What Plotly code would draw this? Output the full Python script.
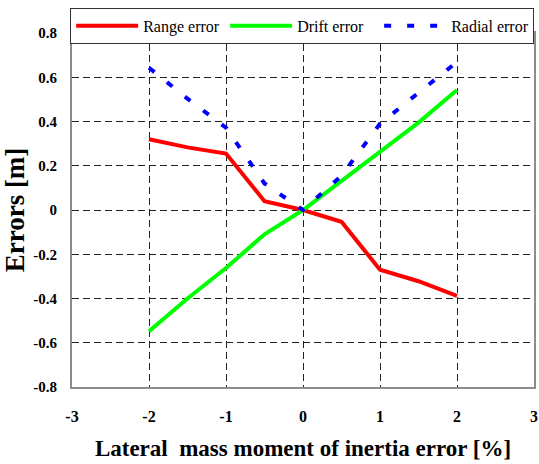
import plotly.graph_objects as go

# Lateral mass moment of inertia error [%]
inertia_error = [-2, -1.5, -1, -0.5, 0, 0.5, 1, 1.5, 2]

# Impact point errors [m]
range_error = [0.32, 0.283, 0.255, 0.04, 0.0, -0.053, -0.27, -0.322, -0.388]
drift_error = [-0.548, -0.40, -0.262, -0.11, 0.0, 0.13, 0.262, 0.395, 0.542]
radial_error = [0.643, 0.503, 0.372, 0.12, 0.0, 0.155, 0.39, 0.53, 0.669]

x_ticks = [-3, -2, -1, 0, 1, 2, 3]
x_tick_text = ["-3", "-2", "-1", "0", "1", "2", "3"]
y_ticks = [-0.8, -0.6, -0.4, -0.2, 0, 0.2, 0.4, 0.6, 0.8]
y_tick_text = ["-0.8", "-0.6", "-0.4", "-0.2", "0", "0.2", "0.4", "0.6", "0.8"]

SERIF = "Liberation Serif"

fig = go.Figure()
fig.add_trace(go.Scatter(x=inertia_error, y=range_error, mode="lines", name="Range error",
                         line=dict(color="#ff0000", width=4)))
fig.add_trace(go.Scatter(x=inertia_error, y=drift_error, mode="lines", name="Drift error",
                         line=dict(color="#00ff00", width=4)))
fig.add_trace(go.Scatter(x=inertia_error, y=radial_error, mode="lines", name="Radial error",
                         line=dict(color="#0000ff", width=4, dash="7px,16px")))

fig.update_layout(
    width=539, height=464,
    margin=dict(l=72, r=5, t=33, b=77, autoexpand=False),
    paper_bgcolor="white", plot_bgcolor="white",
    font=dict(family=SERIF, color="black"),
    legend=dict(
        orientation="h", x=-0.004, xanchor="left", y=1.071, yanchor="top",
        bgcolor="white", bordercolor="#333333", borderwidth=1,
        font=dict(family=SERIF, size=16, color="black"),
        entrywidth=77, entrywidthmode="pixels",
        itemwidth=62, tracegroupgap=0,
    ),
    xaxis=dict(
        range=[-3, 3], tickvals=x_ticks, ticktext=x_tick_text,
        showgrid=True, gridcolor="#222222", gridwidth=1, griddash="7px,4px",
        zeroline=False, showline=True, linecolor="#8c8c8c", linewidth=2, mirror=True,
        ticks="", ticklabelstandoff=14,
        tickfont=dict(family=SERIF, size=16, color="black", weight="bold"),
        title=dict(text="<b>Lateral  mass moment of inertia error [%]</b>",
                   font=dict(family=SERIF, size=23, color="black"), standoff=16),
    ),
    yaxis=dict(
        range=[-0.8, 0.8], tickvals=y_ticks, ticktext=y_tick_text,
        showgrid=True, gridcolor="#222222", gridwidth=1, griddash="7px,4px",
        zeroline=False, showline=True, linecolor="#8c8c8c", linewidth=2, mirror=True,
        ticks="", ticklabelstandoff=10,
        tickfont=dict(family=SERIF, size=15, color="black", weight="bold"),
        title=dict(text="<b>Errors [m]</b>",
                   font=dict(family=SERIF, size=27, color="black"), standoff=10),
    ),
    showlegend=True,
)

fig.write_html("out.html")
